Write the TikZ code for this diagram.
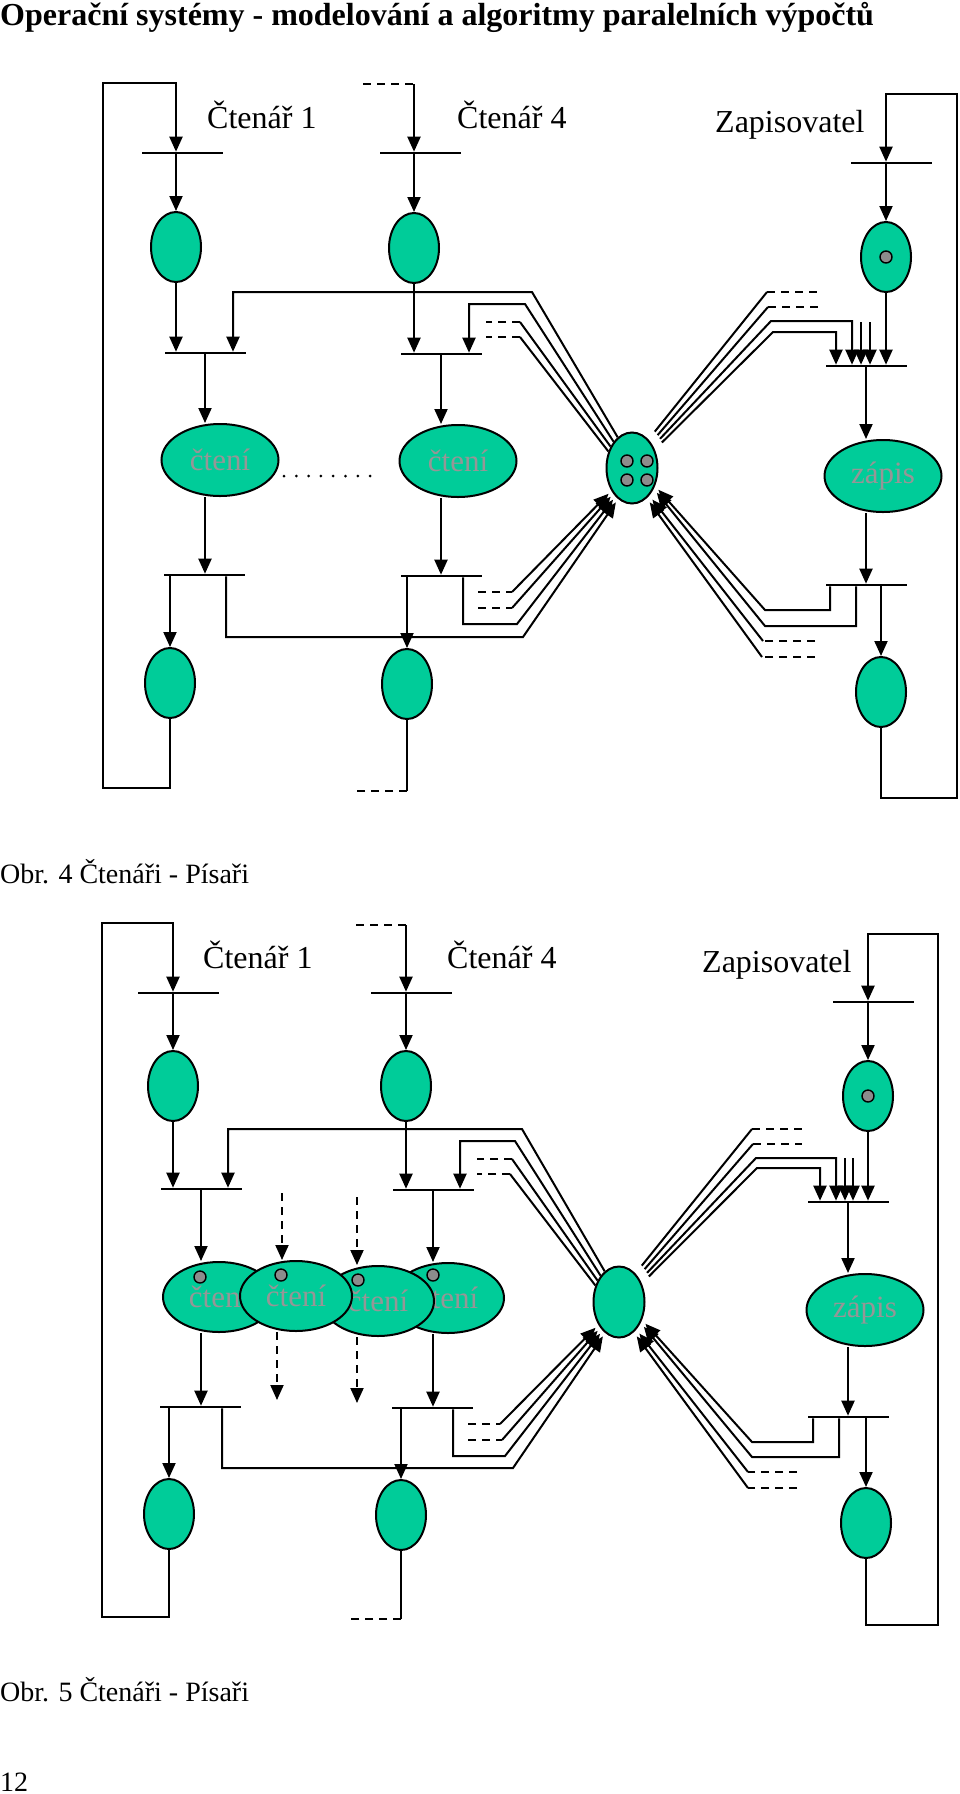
\documentclass[tikz,border=0pt]{standalone}
\usepackage{fontspec}
\setmainfont{Liberation Serif}
\usetikzlibrary{shapes.geometric,arrows.meta}
\definecolor{petri}{RGB}{0,204,153}
\definecolor{tokgray}{RGB}{140,140,140}
\definecolor{txtgray}{RGB}{150,150,150}

\begin{document}
\begin{tikzpicture}[x=1pt,y=-1pt,
  place/.style={ellipse,draw,line width=2pt,fill=petri,minimum width=50pt,minimum height=70pt,inner sep=0pt},
  act/.style={place,minimum width=117pt,minimum height=72pt,text=txtgray,font=\fontsize{31}{31}\selectfont},
  bar/.style={fill=black,minimum width=81pt,minimum height=2.2pt,inner sep=0pt},
  tok/.style={circle,draw,line width=1.4pt,fill=tokgray,minimum size=12pt,inner sep=0pt},
  ln/.style={line width=2pt},
  dsh/.style={ln,dash pattern=on 8pt off 6pt},
  arr/.style={ln,-{Triangle[length=15pt,width=13pt]}},
  darr/.style={arr,dash pattern=on 8pt off 6pt},
  lbl/.style={anchor=base west,inner sep=0pt,font=\fontsize{32}{32}\selectfont},
  figcap/.style={anchor=base west,inner sep=0pt,font=\fontsize{28}{28}\selectfont}]
\useasboundingbox (0,0) rectangle (960,1794);

\node[anchor=base west,inner sep=0pt,font=\bfseries\fontsize{32}{32}\selectfont] (title) at (0,25) {Operační systémy - modelování a algoritmy paralelních výpočtů};

% Obr. 4
\node[lbl] (lA) at (207,128) {Čtenář 1};
\node[lbl] (lB) at (457,128) {Čtenář 4};
\node[lbl] (lW) at (715,132) {Zapisovatel};

\node[bar] (tA1) at (182,153) {};
\node[place] (pA1) at (176,247) {};
\node[bar] (tA2) at (205,353) {};
\node[act] (aA) at (220,460) {čtení};
\node[bar] (tA3) at (204,575) {};
\node[place] (pA2) at (170,683) {};

\node[bar] (tB1) at (420,153) {};
\node[place] (pB1) at (414,248) {};
\node[bar] (tB2) at (441,354) {};
\node[act] (aB) at (458,461) {čtení};
\node[bar] (tB3) at (441,576) {};
\node[place] (pB2) at (407,684) {};

\node[place,minimum width=51pt,minimum height=71pt] (s) at (632,468) {};
\node[tok] (s1) at (627,461) {};
\node[tok] (s2) at (647,461) {};
\node[tok] (s3) at (627,480) {};
\node[tok] (s4) at (647,480) {};

\node[bar] (tW1) at (891,163) {};
\node[place] (pW1) at (886,257) {};
\node[tok] (w1) at (pW1) {};
\node[bar] (tW2) at (866,366) {};
\node[act] (aW) at (883,476) {zápis};
\node[bar] (tW3) at (866,585) {};
\node[place] (pW2) at (881,692) {};

\path[draw,arr] (pA2.south) |- (103,788) -- (103,83) -| (tA1.north -| pA1);
\path[draw,arr] (pA1 |- tA1.south) -- (pA1.north);
\path[draw,arr] (pA1.south) -- (pA1 |- tA2.north);
\path[draw,arr] (tA2.south) -- (tA2.south |- aA.north);
\path[draw,arr] (tA2 |- aA.south) -- (tA2 |- tA3.north);
\path[draw,arr] (pA2 |- tA3.south) -- (pA2.north);
\path[draw,arr] (s.115) -- (532,292) -| ([xshift=28pt]tA2.north);
\path[draw,arr,shorten >=4pt] ([xshift=22pt]tA3.south) |- (523,637) -- (s.246);

\coordinate (dB) at (363,84);
\path[draw,dsh] (dB) -- (dB -| pB1);
\path[draw,arr] (dB -| pB1) -- (tB1.north -| pB1);
\path[draw,arr] (pB1 |- tB1.south) -- (pB1.north);
\path[draw,arr] (pB1.south) -- (pB1 |- tB2.north);
\path[draw,arr] (s.125) -- (525,304) -| ([xshift=28pt]tB2.north);
\path[draw,ln] (s.135) -- (520,322) coordinate (kB1);
\path[draw,dsh] (kB1) -- ++(-34,0);
\path[draw,ln] (s.145) -- (520,337) coordinate (kB2);
\path[draw,dsh] (kB2) -- ++(-34,0);
\path[draw,arr] (tB2.south) -- (tB2.south |- aB.north);
\path[draw,arr] (tB2 |- aB.south) -- (tB2 |- tB3.north);
\path[draw,arr] (pB2 |- tB3.south) -- (pB2.north);
\path[draw,arr,shorten >=4pt] ([xshift=22pt]tB3.south) |- (517,624) -- (s.240);
\path[draw,dsh] (478,592) -- (512,592);
\path[draw,arr,shorten >=4pt] (512,592) -- (s.228);
\path[draw,dsh] (478,608) -- (512,608);
\path[draw,arr,shorten >=4pt] (512,608) -- (s.234);
\path[draw,ln] (pB2.south) -- ++(0,71) coordinate (eB);
\path[draw,dsh] (eB) -- ++(-51,0);

\path[draw,line width=3pt,line cap=round,dash pattern=on 0pt off 12.3pt] (284,476) -- (372,476);

\path[draw,arr] (pW2.south) |- (957,798) -- (957,94) -| (tW1.north -| pW1);
\path[draw,arr] (pW1 |- tW1.south) -- (pW1.north);
\path[draw,arr] (pW1.south) -- (pW1 |- tW2.north);
\path[draw,ln,shorten <=10pt] (s.60) -- (767,292) coordinate (kW1);
\path[draw,dsh] (kW1) -- ++(51,0);
\path[draw,ln,shorten <=10pt] (s.53) -- (768,307) coordinate (kW2);
\path[draw,dsh] (kW2) -- ++(50,0);
\path[draw,arr,shorten <=10pt] (s.46) -- (771,321) -| ([xshift=-14pt]tW2.north);
\path[draw,arr,shorten <=10pt] (s.39) -- (773,332) -| ([xshift=-30pt]tW2.north);
\coordinate (kW3) at (861,322);
\coordinate (kW4) at (870,322);
\path[draw,arr] (kW3) -- (kW3 |- tW2.north);
\path[draw,arr] (kW4) -- (kW4 |- tW2.north);
\path[draw,arr] (tW2.south) -- (tW2.south |- aW.north);
\path[draw,arr] (tW2 |- aW.south) -- (tW2 |- tW3.north);
\path[draw,arr] (pW2 |- tW3.south) -- (pW2.north);
\path[draw,arr,shorten >=5pt] ([xshift=-36pt]tW3.south) |- (765,610) -- (s.322);
\path[draw,arr,shorten >=5pt] ([xshift=-10pt]tW3.south) |- (765,626) -- (s.316);
\path[draw,dsh] (815,641) -- (763,641);
\path[draw,arr,shorten >=5pt] (763,641) -- (s.302);
\path[draw,dsh] (815,657) -- (762,657);
\path[draw,arr,shorten >=5pt] (762,657) -- (s.296);

\node[figcap] (c4) at (0,883) {Obr. 4 Čtenáři - Písaři};

% Obr. 5
\node[lbl] (LA) at (203,968) {Čtenář 1};
\node[lbl] (LB) at (447,968) {Čtenář 4};
\node[lbl] (LW) at (702,972) {Zapisovatel};

\node[bar] (TA1) at (178,993) {};
\node[place] (PA1) at (173,1086) {};
\node[bar] (TA2) at (201,1189) {};
\node[bar] (TA3) at (200,1407) {};
\node[place] (PA2) at (169,1514) {};
\node[bar] (TB1) at (411,993) {};
\node[place] (PB1) at (406,1086) {};
\node[bar] (TB2) at (433,1190) {};
\node[bar] (TB3) at (432,1408) {};
\node[place] (PB2) at (401,1515) {};

\node[act,minimum width=112pt,minimum height=70pt] (E1) at (219,1297) {čtení};
\node[tok] (e1) at (200,1277) {};
\node[act,minimum width=112pt,minimum height=70pt] (E4) at (448,1298) {čtení};
\node[tok] (e4) at (433,1275) {};
\node[act,minimum width=112pt,minimum height=70pt] (E3) at (378,1301) {čtení};
\node[tok] (e3) at (358,1280) {};
\node[act,minimum width=112pt,minimum height=70pt] (E2) at (296,1296) {čtení};
\node[tok] (e2) at (281,1275) {};

\node[place,minimum width=51pt,minimum height=71pt] (S) at (619,1302) {};

\node[bar] (TW1) at (873,1002) {};
\node[place] (PW1) at (868,1096) {};
\node[tok] (W1) at (PW1) {};
\node[bar] (TW2) at (848,1202) {};
\node[act] (AW) at (865,1310) {zápis};
\node[bar] (TW3) at (848,1417) {};
\node[place] (PW2) at (866,1523) {};

\path[draw,arr] (PA2.south) |- (102,1617) -- (102,923) -| (TA1.north -| PA1);
\path[draw,arr] (PA1 |- TA1.south) -- (PA1.north);
\path[draw,arr] (PA1.south) -- (PA1 |- TA2.north);
\path[draw,arr] (TA2.south) -- (TA2.south |- E1.north);
\path[draw,arr] (TA2 |- E1.south) -- (TA2 |- TA3.north);
\path[draw,arr] (PA2 |- TA3.south) -- (PA2.north);
\path[draw,arr] (S.115) -- (522,1129) -| ([xshift=27pt]TA2.north);
\path[draw,arr,shorten >=4pt] ([xshift=22pt]TA3.south) |- (513,1468) -- (S.246);

\coordinate (DB) at (356,925);
\path[draw,dsh] (DB) -- (DB -| PB1);
\path[draw,arr] (DB -| PB1) -- (TB1.north -| PB1);
\path[draw,arr] (PB1 |- TB1.south) -- (PB1.north);
\path[draw,arr] (PB1.south) -- (PB1 |- TB2.north);
\path[draw,arr] (S.125) -- (515,1141) -| ([xshift=27pt]TB2.north);
\path[draw,ln] (S.135) -- (512,1159) coordinate (KB1);
\path[draw,dsh] (KB1) -- ++(-35,0);
\path[draw,ln] (S.145) -- (510,1174) coordinate (KB2);
\path[draw,dsh] (KB2) -- ++(-33,0);
\path[draw,arr] (TB2.south) -- (TB2.south |- E4.north);
\path[draw,arr] (TB2 |- E4.south) -- (TB2 |- TB3.north);
\path[draw,arr] (PB2 |- TB3.south) -- (PB2.north);
\path[draw,arr,shorten >=4pt] ([xshift=21pt]TB3.south) |- (505,1456) -- (S.240);
\path[draw,dsh] (468,1424) -- (500,1424);
\path[draw,arr,shorten >=4pt] (500,1424) -- (S.228);
\path[draw,dsh] (468,1440) -- (502,1440);
\path[draw,arr,shorten >=4pt] (502,1440) -- (S.234);
\path[draw,ln] (PB2.south) -- ++(0,68) coordinate (EB);
\path[draw,dsh] (EB) -- ++(-51,0);

\coordinate (F1) at (282,1193);
\coordinate (F2) at (357,1197);
\coordinate (G1) at (277,1400);
\coordinate (G2) at (357,1403);
\path[draw,darr] (F1) -- (F1 |- E2.north);
\path[draw,darr] (F2) -- (F2 |- E3.north);
\path[draw,darr] (G1 |- E2.south) -- (G1);
\path[draw,darr] (G2 |- E3.south) -- (G2);

\path[draw,arr] (PW2.south) |- (938,1625) -- (938,934) -| (TW1.north -| PW1);
\path[draw,arr] (PW1 |- TW1.south) -- (PW1.north);
\path[draw,arr] (PW1.south) -- (PW1 |- TW2.north);
\path[draw,ln,shorten <=10pt] (S.60) -- (752,1129) coordinate (KW1);
\path[draw,dsh] (KW1) -- ++(50,0);
\path[draw,ln,shorten <=10pt] (S.53) -- (753,1144) coordinate (KW2);
\path[draw,dsh] (KW2) -- ++(49,0);
\path[draw,arr,shorten <=10pt] (S.46) -- (756,1158) -| ([xshift=-12pt]TW2.north);
\path[draw,arr,shorten <=10pt] (S.39) -- (757,1168) -| ([xshift=-28pt]TW2.north);
\coordinate (KW3) at (845,1158);
\coordinate (KW4) at (853,1158);
\path[draw,arr] (KW3) -- (KW3 |- TW2.north);
\path[draw,arr] (KW4) -- (KW4 |- TW2.north);
\path[draw,arr] (TW2.south) -- (TW2.south |- AW.north);
\path[draw,arr] (TW2 |- AW.south) -- (TW2 |- TW3.north);
\path[draw,arr] (PW2 |- TW3.south) -- (PW2.north);
\path[draw,arr,shorten >=5pt] ([xshift=-35pt]TW3.south) |- (752,1442) -- (S.322);
\path[draw,arr,shorten >=5pt] ([xshift=-9pt]TW3.south) |- (752,1457) -- (S.316);
\path[draw,dsh] (797,1472) -- (748,1472);
\path[draw,arr,shorten >=5pt] (748,1472) -- (S.302);
\path[draw,dsh] (797,1488) -- (748,1488);
\path[draw,arr,shorten >=5pt] (748,1488) -- (S.296);

\node[figcap] (c5) at (0,1701) {Obr. 5 Čtenáři - Písaři};
\node[figcap] (pg) at (0,1791) {12};
\end{tikzpicture}
\end{document}
